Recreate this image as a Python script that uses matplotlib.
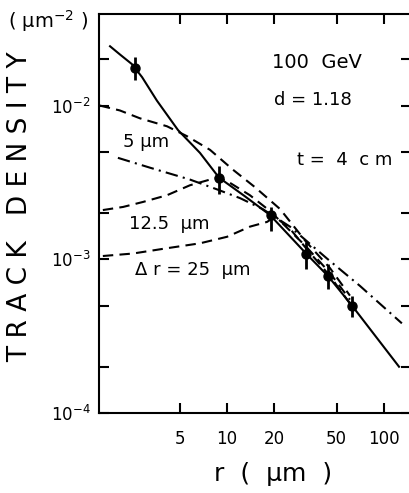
import numpy as np
import matplotlib
matplotlib.use("Agg")
import matplotlib.pyplot as plt
from matplotlib.ticker import NullLocator

# measured track density (um^-2) vs r (um)
r_pts = [2.6, 8.9, 19.1, 31.9, 44.0, 62.5]
rho_pts = [0.0175, 0.0034, 0.00194, 0.00109, 0.000778, 0.0005]
rho_lo = [0.0147, 0.00265, 0.00153, 0.000863, 0.000642, 0.000419]
rho_hi = [0.0206, 0.00406, 0.00218, 0.00130, 0.000929, 0.000579]

# calculated curves
r_solid = [1.80, 2.08, 2.48, 2.88, 3.58, 4.88, 6.73, 8.89, 13.0, 18.8, 31.9,
           44.0, 62.5, 124.7]
rho_solid = [0.0243, 0.0215, 0.0186, 0.0153, 0.01076, 0.00692, 0.00492, 0.0034,
             0.00257, 0.00194, 0.00109, 0.000778, 0.0005, 0.0002]

r_5 = [1.55, 2.08, 2.79, 4.15, 5.56, 7.80, 10.9, 15.1, 21.8, 31.9, 45.3, 60.7]
rho_5 = [0.01, 0.00929, 0.00826, 0.00733, 0.00632, 0.00515, 0.00383, 0.00294,
         0.00212, 0.0013, 0.000876, 0.00058]

r_dd = [2.02, 3.24, 5.81, 8.63, 12.1, 16.9, 25.2, 43.4, 70.3, 130.0]
rho_dd = [0.00457, 0.00394, 0.00330, 0.00285, 0.00250, 0.00212, 0.00163,
          0.00101, 0.000671, 0.000383]

r_12 = [1.62, 2.18, 2.92, 4.15, 5.81, 7.80, 8.89, 10.1, 14.0, 18.8, 31.9, 45.3,
        60.7]
rho_12 = [0.00209, 0.00219, 0.00236, 0.00261, 0.00303, 0.00330, 0.0034,
          0.00321, 0.00261, 0.00206, 0.00121, 0.000813, 0.000546]

r_25 = [1.62, 2.52, 4.15, 6.73, 10.0, 14.0, 18.0, 20.2, 25.2, 31.9, 45.3, 60.7]
rho_25 = [0.00105, 0.00109, 0.00118, 0.00127, 0.00140, 0.00163, 0.00175,
          0.00189, 0.00158, 0.00118, 0.000778, 0.000515]

xtick_vals = [5, 10, 20, 50, 100]
xtick_labels = ["5", "10", "20", "50", "100"]
ytick_vals = [1e-4, 1e-3, 1e-2]
ytick_labels = [r"10$^{-4}$", r"10$^{-3}$", r"10$^{-2}$"]

W, H = 410, 493


def fpos(x, y):
    # pixel position -> figure fraction
    return x / W, 1 - y / H


fig = plt.figure(figsize=(W / 100, H / 100), dpi=100)
ax = fig.add_axes([99 / W, 1 - 413 / H, (411 - 99) / W, (413 - 14) / H])
ax.set_xscale("log")
ax.set_yscale("log")
ax.set_xlim(1.531, 148.6)
ax.set_ylim(1e-4, 0.0394)

lw = 1.5
dash = (0, (5, 3))
ax.plot(r_solid, rho_solid, color="black", lw=lw)
ax.plot(r_5, rho_5, color="black", lw=lw, linestyle=dash)
ax.plot(r_dd, rho_dd, color="black", lw=lw, linestyle=(0, (6, 2.5, 1, 2.5)))
ax.plot(r_12, rho_12, color="black", lw=lw, linestyle=dash)
ax.plot(r_25, rho_25, color="black", lw=lw, linestyle=dash)

yerr = [np.array(rho_pts) - np.array(rho_lo), np.array(rho_hi) - np.array(rho_pts)]
ax.errorbar(r_pts, rho_pts, yerr=yerr, fmt="o", color="black", ms=6.5,
            elinewidth=2, capsize=0, zorder=5)

ax.set_xticks(xtick_vals)
ax.set_xticklabels(xtick_labels)
ax.xaxis.set_minor_locator(NullLocator())
ax.set_yticks(ytick_vals)
ax.set_yticklabels(ytick_labels)
ax.set_yticks([2e-4, 5e-4, 2e-3, 5e-3, 2e-2], minor=True)
ax.tick_params(which="both", direction="in", length=7, width=1.5,
               top=True, right=True, labelsize=12)
ax.tick_params(axis="x", pad=12)
ax.tick_params(axis="y", pad=6)
for s in ax.spines.values():
    s.set_linewidth(1.5)

# annotations
fs = 13
fig.text(*fpos(317, 62), "100  GeV", ha="center", va="center", fontsize=14)
fig.text(*fpos(313, 100), "d = 1.18", ha="center", va="center", fontsize=fs)
fig.text(*fpos(345, 160), "t =  4  c m", ha="center", va="center", fontsize=fs)
fig.text(*fpos(146, 142), "5 μm", ha="center", va="center", fontsize=fs)
fig.text(*fpos(169, 224), "12.5  μm", ha="center", va="center", fontsize=fs)
fig.text(*fpos(193, 270), "Δ r = 25  μm", ha="center", va="center", fontsize=fs)

# axis labels
fig.text(*fpos(48, 21), "( μm$^{-2}$ )", ha="center", va="center", fontsize=14)
fig.text(*fpos(20, 207), "T R A C K   D E N S I T Y", rotation=90,
         ha="center", va="center", fontsize=19)
fig.text(*fpos(273, 474), "r  (  μm  )", ha="center", va="center", fontsize=18)

fig.savefig("out.png", dpi=100)
